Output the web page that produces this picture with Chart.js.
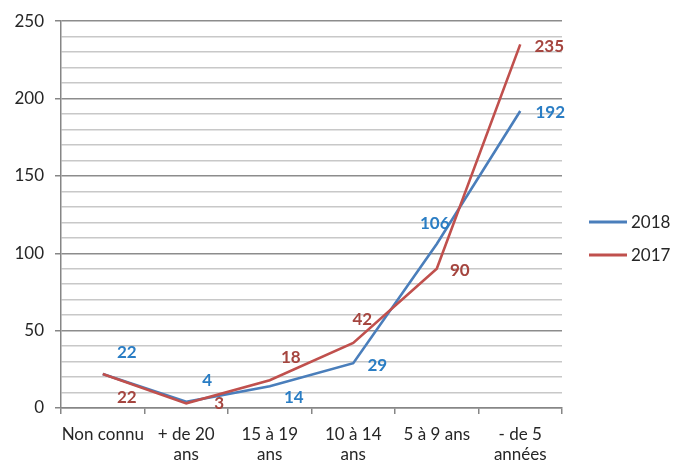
<!DOCTYPE html>
<html>
<head>
<meta charset="utf-8">
<script src="https://cdn.jsdelivr.net/npm/chart.js@4/dist/chart.umd.min.js"></script>
<style>
  body { margin: 0; background: #fff; }
  #wrap { width: 688px; height: 463px; }
</style>
</head>
<body>
<div id="wrap"><canvas id="chart" width="688" height="463"></canvas></div>
<script>
// categories (multi-line labels as arrays)
const categories = ["Non connu", ["+ de 20", "ans"], ["15 à 19", "ans"], ["10 à 14", "ans"], "5 à 9 ans", ["- de 5", "années"]];
const values2018 = [22, 4, 14, 29, 106, 192];
const values2017 = [22, 3, 18, 42, 90, 235];
const yTickLabels = [0, 50, 100, 150, 200, 250];

// where each value label sits, relative to its point (px)
const labelOffsets2018 = [[24, -21], [21, -21], [24, 11], [24, 2], [-2, -20], [30, 2]];
const labelOffsets2017 = [[24, 24], [33, 0], [21, -23], [9, -24], [23, 2], [29, 2]];

const FONT = "Lato, 'Open Sans', sans-serif";
const blueLine = "#4a7ebb", redLine = "#c0504d";
const blueText = "#2a7dc4", redText = "#a5453f";

// value labels + legend drawn by hand
const labelsPlugin = {
  id: "valueLabels",
  afterDatasetsDraw(chart) {
    const ctx = chart.ctx;
    ctx.save();
    ctx.font = "bold 17px " + FONT;
    ctx.textAlign = "center";
    ctx.textBaseline = "middle";
    chart.data.datasets.forEach((ds, i) => {
      const meta = chart.getDatasetMeta(i);
      meta.data.forEach((pt, j) => {
        const off = ds.labelOffsets[j];
        ctx.fillStyle = ds.textColor;
        ctx.fillText(ds.data[j], pt.x + off[0], pt.y + off[1]);
      });
    });

    // legend
    ctx.font = "17px " + FONT;
    ctx.textAlign = "left";
    const lx = 589, ly = [222, 255];
    chart.data.datasets.forEach((ds, i) => {
      ctx.strokeStyle = ds.borderColor;
      ctx.lineWidth = 3;
      ctx.beginPath();
      ctx.moveTo(lx, ly[i]);
      ctx.lineTo(lx + 38, ly[i]);
      ctx.stroke();
      ctx.fillStyle = "#262626";
      ctx.fillText(ds.label, lx + 42, ly[i] + 1);
    });
    ctx.restore();
  }
};

new Chart(document.getElementById("chart"), {
  type: "line",
  data: {
    labels: categories,
    datasets: [
      { label: "2018", data: values2018, borderColor: blueLine, backgroundColor: blueLine,
        textColor: blueText, labelOffsets: labelOffsets2018, order: 2 },
      { label: "2017", data: values2017, borderColor: redLine, backgroundColor: redLine,
        textColor: redText, labelOffsets: labelOffsets2017, order: 1 }
    ]
  },
  options: {
    responsive: false,
    animation: false,
    devicePixelRatio: 1,
    layout: { padding: { top: 20, right: 126, left: 0, bottom: 0 } },
    elements: {
      line: { borderWidth: 2.6, tension: 0 },
      point: { radius: 0, hoverRadius: 0 }
    },
    plugins: { legend: { display: false }, tooltip: { enabled: false } },
    scales: {
      x: {
        offset: true,
        grid: { offset: true, drawOnChartArea: false, drawTicks: true, tickLength: 6, color: "#868686", lineWidth: 1.5 },
        border: { color: "#868686", width: 1.5 },
        ticks: { color: "#262626", font: { family: FONT, size: 17 }, padding: 10, maxRotation: 0, autoSkip: false },
        afterFit(scale) { scale.height = 55; }
      },
      y: {
        min: 0,
        max: 250,
        ticks: {
          stepSize: 10,
          autoSkip: false,
          color: "#262626",
          font: { family: FONT, size: 17 },
          padding: 11,
          callback: (v) => yTickLabels.includes(v) ? v : ""
        },
        grid: {
          color: (c) => c.tick.value % 50 === 0 ? "#8c8c8c" : "#c8c8c8",
          lineWidth: 1.5,
          tickLength: 6,
          tickColor: (c) => c.tick.value % 50 === 0 ? "#868686" : "rgba(0,0,0,0)"
        },
        border: { color: "#868686", width: 1.5 },
        afterFit(scale) { scale.width = 61; }
      }
    }
  },
  plugins: [labelsPlugin]
});
</script>
</body>
</html>
